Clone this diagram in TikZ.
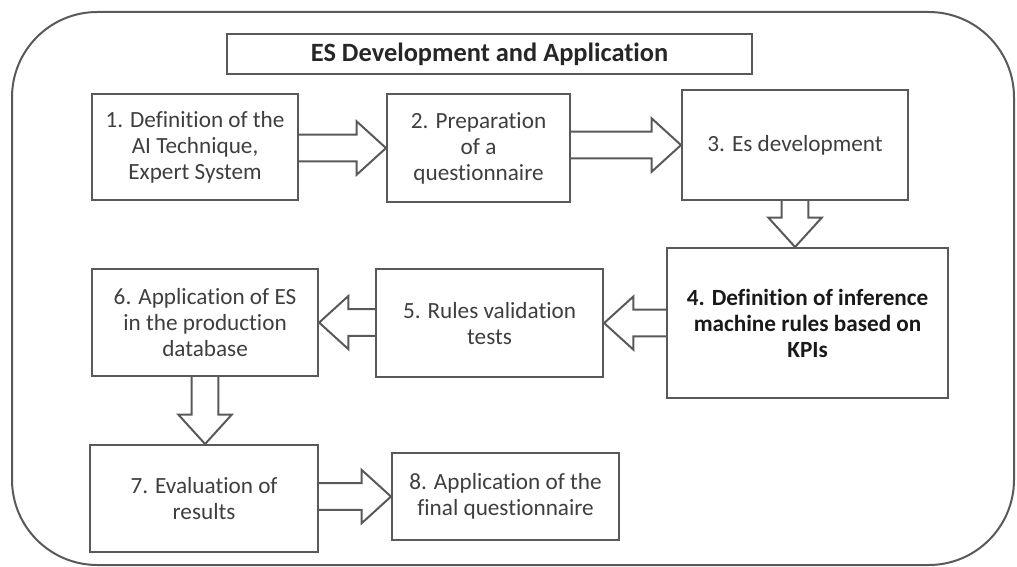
\documentclass[tikz,border=0pt]{standalone}
\usepackage{fontspec}
\setmainfont{Carlito}[Ligatures={NoCommon}]
\usetikzlibrary{calc}
\definecolor{linegray}{RGB}{89,89,89}
\definecolor{textgray}{RGB}{62,62,62}
\tikzset{every picture/.style={line width=1.5pt}}
% hollow block arrow from #1 (tail) to #2 (tip)
\newcommand{\blockarrow}[2]{%
  \draw[blockarr] let \p1=#1, \p2=#2, \n1={atan2(\y2-\y1,\x2-\x1)}, \n2={veclen(\x2-\x1,\y2-\y1)} in
    [shift={(\p1)}, rotate=\n1] (0pt,10pt) -- ({\n2*1pt-22pt},10pt) -- ({\n2*1pt-22pt},20pt) -- ({\n2*1pt},0pt)
    -- ({\n2*1pt-22pt},-20pt) -- ({\n2*1pt-22pt},-10pt) -- (0pt,-10pt);}

\begin{document}
\begin{tikzpicture}[x=0.75pt,y=-0.75pt,
  stepbox/.style={draw=linegray, line width=1.6pt, anchor=north west, inner sep=2pt, align=center,
    text=textgray, font=\fontsize{17.4pt}{19.5pt}\selectfont},
  blockarr/.style={draw=linegray, line width=1.5pt, line join=miter}]
\useasboundingbox (0,0) rectangle (1017,567);

%Shape: Rounded Rect (outer frame)
\draw[linegray, line width=1.5pt, rounded corners=64pt] (12,12) rectangle (1014,565);

% Text Node
\node[stepbox, minimum width=393.75pt, minimum height=30pt, text=black!85,
  font=\fontsize{19.8pt}{21pt}\selectfont\bfseries] (title) at (226,33) {ES Development and Application};

% Text Node
\node[stepbox, minimum width=154.5pt, minimum height=79.5pt] (def) at (91,93) {1. Definition of the\\AI Technique,\\Expert System};
% Text Node
\node[stepbox, minimum width=137.25pt, minimum height=81pt] (quest) at (386,93) {2. Preparation\\of a\\questionnaire};
% Text Node
\node[stepbox, minimum width=169.5pt, minimum height=82.5pt] (esdev) at (681,89) {3. Es development};
% Text Node
\node[stepbox, minimum width=210.75pt, minimum height=112.5pt, text=black!90,
  font=\fontsize{17.4pt}{19.5pt}\selectfont\bfseries] (rules) at (666,247) {4. Definition of inference\\machine rules based on\\KPIs};
% Text Node
\node[stepbox, minimum width=170.25pt, minimum height=81pt] (valid) at (375,268) {5. Rules validation\\tests};
% Text Node
\node[stepbox, minimum width=169.5pt, minimum height=80.25pt] (apply) at (91,268) {6. Application of ES\\in the production\\database};
% Text Node
\node[stepbox, minimum width=171pt, minimum height=80.25pt] (eval) at (89,444) {7. Evaluation of\\results};
% Text Node
\node[stepbox, minimum width=170.25pt, minimum height=65.25pt] (final) at (391,452) {8. Application of the\\final questionnaire};

%Shape: Block Arrows
\blockarrow{(def.east |- quest.west)}{(quest.west)}
\blockarrow{(quest.east |- esdev.west)}{(esdev.west)}
\blockarrow{(esdev.south)}{(esdev.south |- rules.north)}
\blockarrow{(rules.west |- valid.east)}{(valid.east)}
\blockarrow{(valid.west |- apply.east)}{(apply.east)}
\blockarrow{(apply.south)}{(apply.south |- eval.north)}
\blockarrow{(eval.east |- final.west)}{(final.west)}

\end{tikzpicture}
\end{document}
